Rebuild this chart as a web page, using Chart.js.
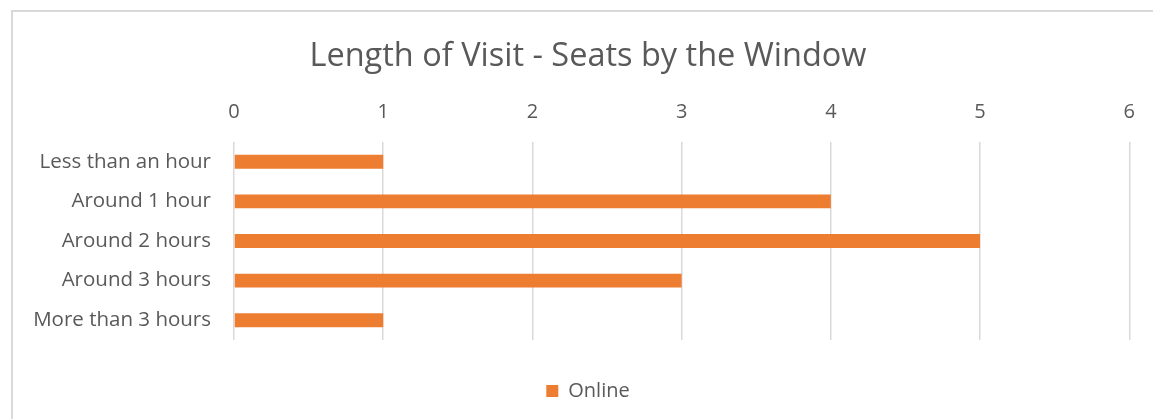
<!DOCTYPE html>
<html>
<head>
<meta charset="utf-8">
<script src="https://cdn.jsdelivr.net/npm/chart.js@4/dist/chart.umd.min.js"></script>
<style>
  html, body { margin: 0; padding: 0; background: #fff; overflow: hidden; }
  .frame {
    position: absolute; left: 11px; top: 10px; width: 1200px; height: 500px;
    border-left: 2px solid #d9d9d9; border-top: 2px solid #d9d9d9;
  }
  .chart { position: absolute; left: 0; top: 0; width: 1153px; height: 419px; }
</style>
</head>
<body>
<div class="frame"></div>
<div class="chart"><canvas id="visitChart" width="1153" height="419"></canvas></div>
<script>
const categories = ["Less than an hour", "Around 1 hour", "Around 2 hours", "Around 3 hours", "More than 3 hours"];
const onlineValues = [1, 4, 5, 3, 1];
const xTicks = [0, 1, 2, 3, 4, 5, 6];

const textColor = "#595959";
const fontFamily = "'Open Sans', sans-serif";

// blank axis used only to reserve space
const spacer = (pos, size) => ({
  type: "linear",
  axis: pos === "right" ? "y" : "x",
  position: pos,
  display: true,
  afterFit: (scale) => {
    if (pos === "right") scale.width = size;
    else scale.height = size;
  },
  grid: { display: false },
  border: { display: false },
  ticks: { display: false },
});

const ctx = document.getElementById("visitChart").getContext("2d");
const visitChart = new Chart(ctx, {
  type: "bar",
  data: {
    labels: categories,
    datasets: [
      {
        label: "Online",
        data: onlineValues,
        backgroundColor: "#ED7D31",
        barPercentage: 0.35,
        categoryPercentage: 1,
        xAxisID: "x",
        yAxisID: "y",
      },
    ],
  },
  options: {
    indexAxis: "y",
    responsive: false,
    animation: false,
    // the chart box runs past the right edge, so title/legend sit right of page centre
    layout: { padding: { left: 28, right: 5, top: 0, bottom: 8 } },
    plugins: {
      title: {
        display: true,
        text: "Length of Visit - Seats by the Window",
        color: textColor,
        font: { family: fontFamily, size: 32.5, weight: "normal" },
        padding: { top: 37, bottom: 7 },
      },
      legend: {
        position: "bottom",
        labels: {
          color: textColor,
          font: { family: fontFamily, size: 20 },
          boxWidth: 12,
          boxHeight: 12,
          padding: 8,
        },
      },
      tooltip: { enabled: false },
    },
    scales: {
      x: {
        position: "top",
        min: xTicks[0],
        max: xTicks[xTicks.length - 1],
        afterBuildTicks: (scale) => {
          scale.ticks = xTicks.map((v) => ({ value: v }));
        },
        afterFit: (scale) => {
          scale.height = 59;
        },
        grid: { color: "#d9d9d9", lineWidth: 1.5, drawTicks: false },
        border: { display: false },
        ticks: { color: textColor, font: { family: fontFamily, size: 20 }, padding: 18 },
      },
      gapBottom: spacer("bottom", 33),
      gapRight: spacer("right", 18),
      y: {
        afterFit: (scale) => {
          scale.width = 206;
        },
        grid: { display: false },
        border: { display: false },
        ticks: { color: textColor, font: { family: fontFamily, size: 20.5 }, padding: 15 },
      },
    },
  },
});
</script>
</body>
</html>
